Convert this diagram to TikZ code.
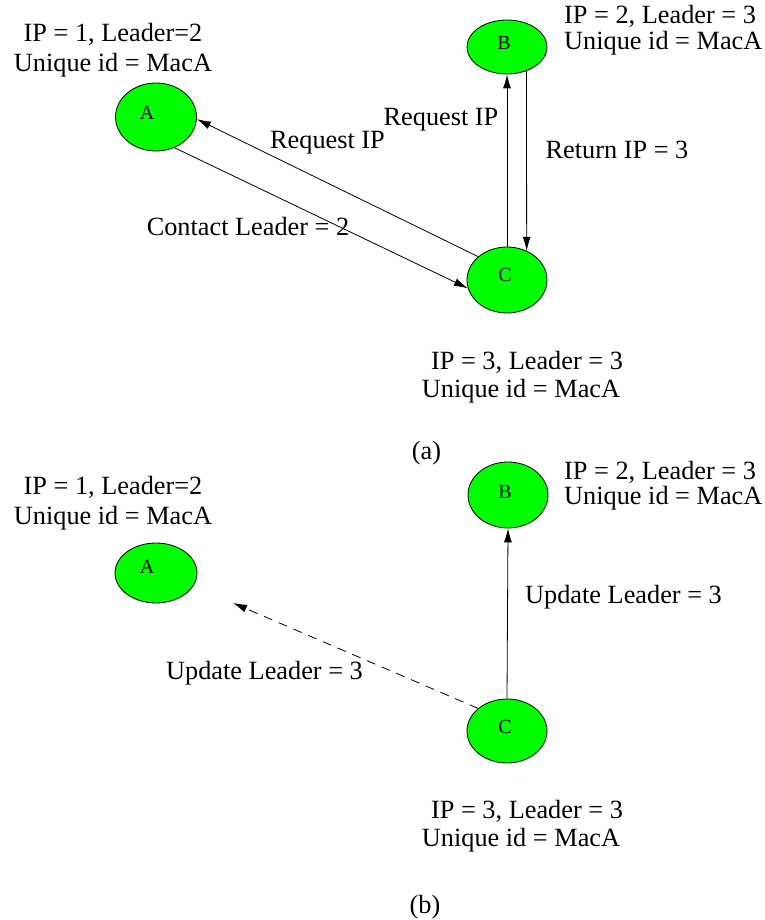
\documentclass[tikz,border=0pt]{standalone}
\usepackage{fontspec}
\setmainfont{Liberation Serif}
\usetikzlibrary{arrows.meta,shapes.geometric}
\begin{document}
\begin{tikzpicture}[x=1pt,y=-1pt,
 ell/.style={ellipse,draw=black,line width=0.8pt,fill=green,minimum width=80pt,minimum height=66pt,inner sep=0pt},
 letter/.style={font=\fontsize{20}{23}\selectfont,inner sep=0pt},
 info/.style={font=\fontsize{26.3}{30}\selectfont,inner sep=0pt,anchor=base},
 infol/.style={info,anchor=base west},
 msg/.style={line width=0.8pt,-{Latex[length=14pt,width=8pt]}}]
\useasboundingbox (0,0) rectangle (764,920);
% ---------- (a) ----------
\node[ell,minimum width=81pt,minimum height=68pt] (Aa) at (156,117) {};
\node[ell,minimum height=54pt] (Ba) at (507,47) {};
\node[ell] (Ca) at (507,280) {};
\node[letter] (lAa) at (147,113) {A};
\node[letter] (lBa) at (504,43) {B};
\node[letter] (lCa) at (505,275) {C};
\node[info] (iA1a) at (113,42) {IP = 1, Leader=2};
\node[info] (iA2a) at (113,72) {Unique id = MacA};
\node[infol] (iB1a) at (564,24) {IP = 2, Leader = 3};
\node[infol] (iB2a) at (564,50) {Unique id = MacA};
\node[info] (iC1a) at (527,369) {IP = 3, Leader = 3};
\node[info] (iC2a) at (521,397) {Unique id = MacA};
\draw[msg] (Ca.141) -- (Aa.-3);
\draw[msg] (Aa.-59) -- (Ca.192);
\draw[msg] (Ca.90) -- (Ba.-90);
\draw[msg] (Ba.-51.4) -- (Ca.56.8);
\node[info] (m1) at (327.5,149) {Request IP};
\node[info] (m2) at (441,126) {Request IP};
\node[info] (m3) at (617,159) {Return IP = 3};
\node[info] (m4) at (248,235) {Contact Leader = 2};
\node[info] (capa) at (426.5,459) {(a)};
% ---------- (b) ----------
\node[ell,minimum width=82pt,minimum height=60pt] (Ab) at (156,573) {};
\node[ell] (Bb) at (508,495) {};
\node[ell,minimum height=64pt] (Cb) at (507,731) {};
\node[letter] (lAb) at (147,567) {A};
\node[letter] (lBb) at (505,492) {B};
\node[letter] (lCb) at (505,727) {C};
\node[info] (iA1b) at (113,494) {IP = 1, Leader=2};
\node[info] (iA2b) at (113,524) {Unique id = MacA};
\node[infol] (iB1b) at (564,479) {IP = 2, Leader = 3};
\node[infol] (iB2b) at (564,504) {Unique id = MacA};
\node[info] (iC1b) at (527,818) {IP = 3, Leader = 3};
\node[info] (iC2b) at (521,846) {Unique id = MacA};
\coordinate (dashend) at (233,603);
\draw[msg] (Cb.90) -- (Bb.-90);
\draw[msg,dash pattern=on 9pt off 7pt] (Cb.142.5) -- (dashend);
\node[info] (u1) at (623.5,603) {Update Leader = 3};
\node[info] (u2) at (264.5,679) {Update Leader = 3};
\node[info] (capb) at (425,913) {(b)};
\end{tikzpicture}
\end{document}
